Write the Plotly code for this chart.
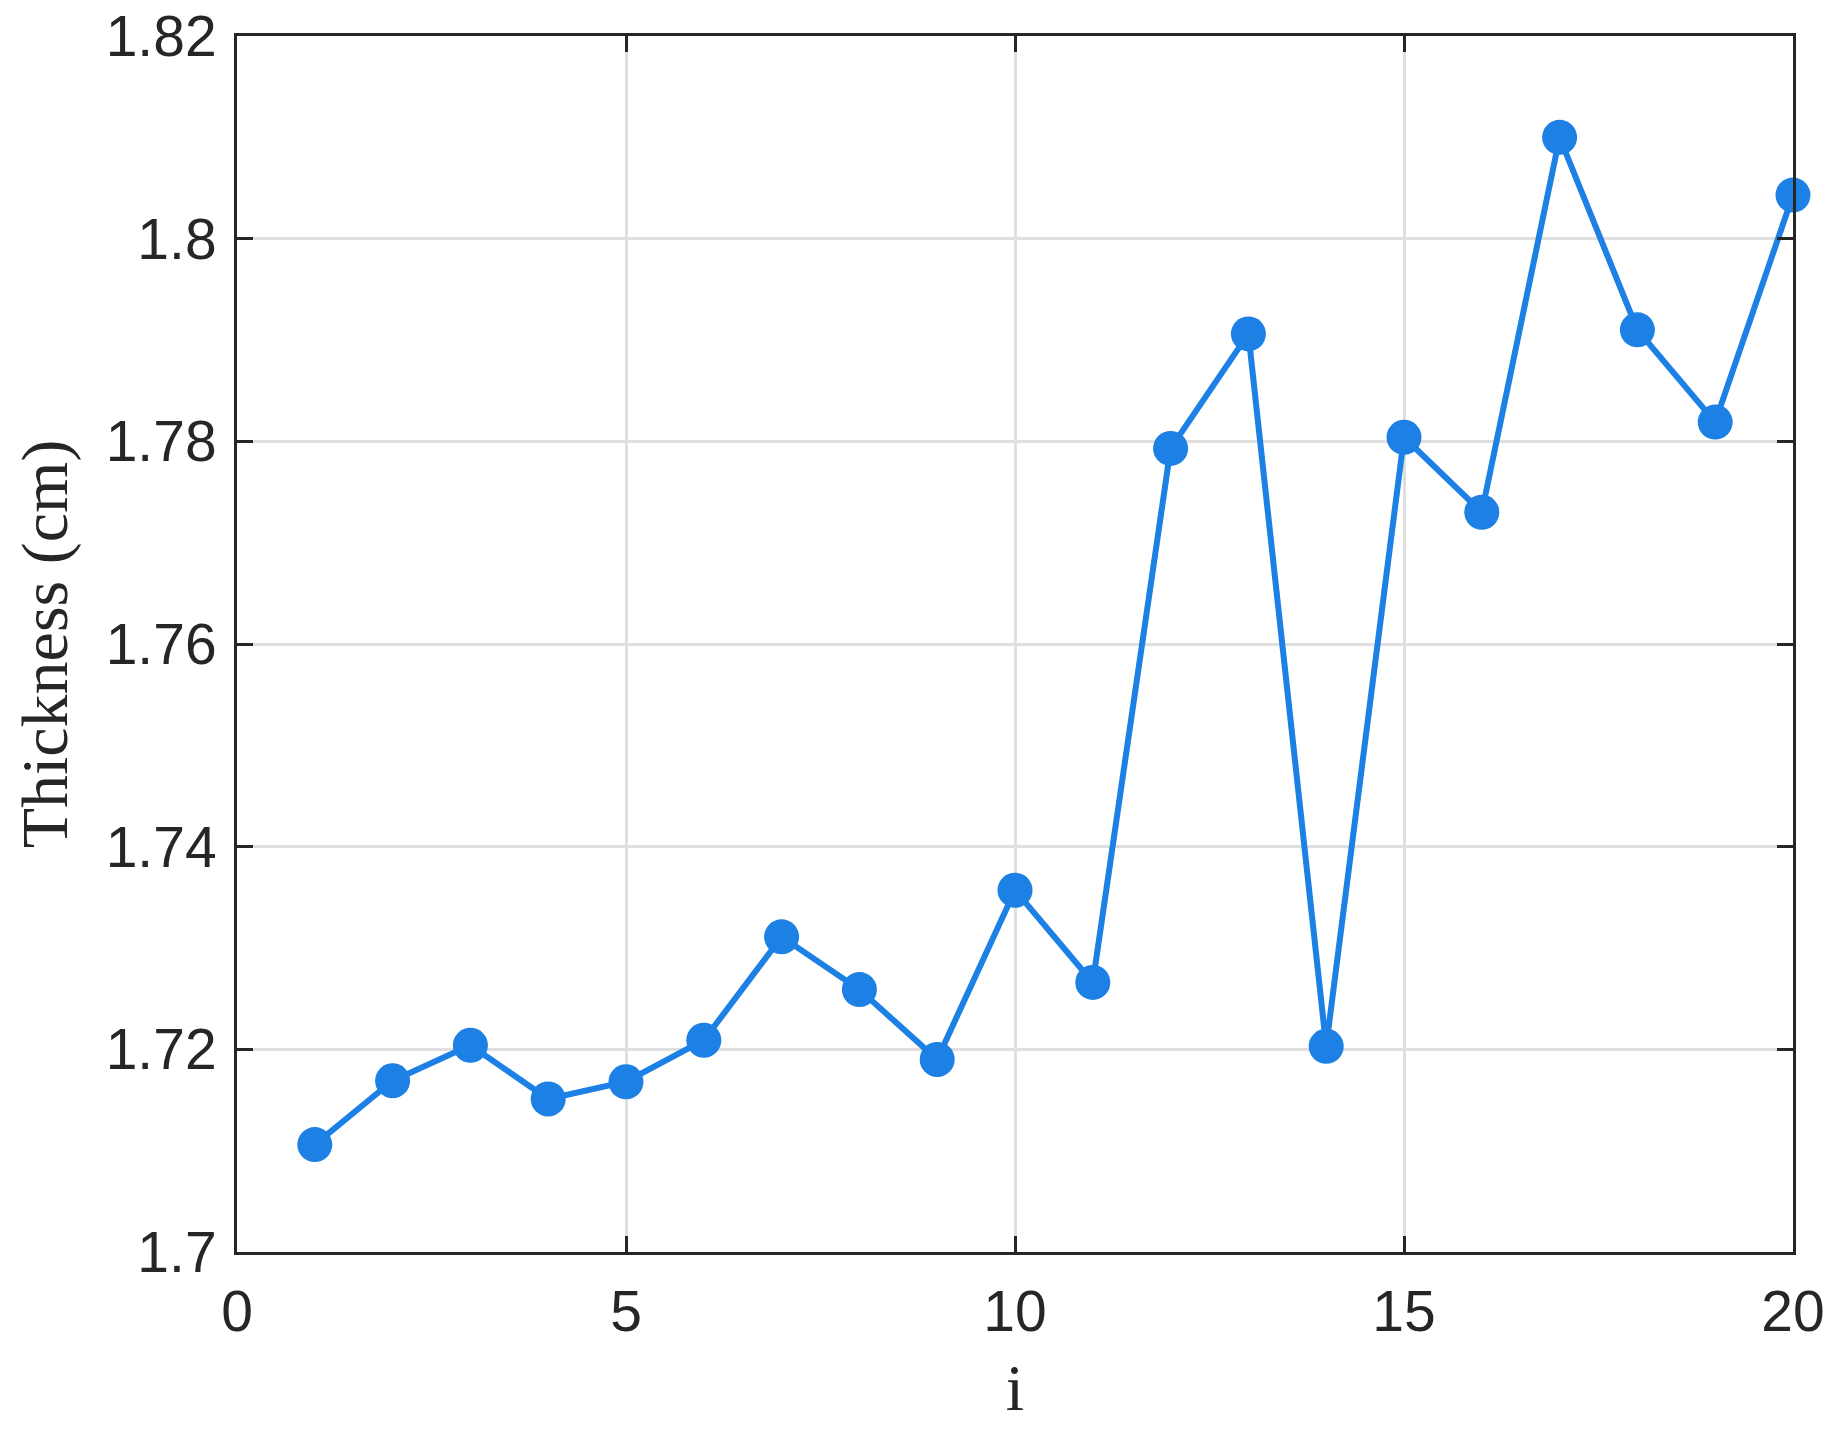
import plotly.graph_objects as go

# Measured thickness per sample index i.
i_vals = list(range(1, 21))
thickness = [1.7106, 1.7169, 1.7204, 1.7151, 1.7168, 1.7209, 1.7311, 1.7259,
             1.7190, 1.7357, 1.7266, 1.7793, 1.7906, 1.7203, 1.7804, 1.7730,
             1.8100, 1.7910, 1.7819, 1.8043]

x_ticks = [0, 5, 10, 15, 20]
y_ticks = [1.70, 1.72, 1.74, 1.76, 1.78, 1.80, 1.82]
y_ticktext = ["1.7", "1.72", "1.74", "1.76", "1.78", "1.8", "1.82"]

blue = "#1c80e4"
axis_col = "#262626"
grid_col = "#dfdfdf"

fig = go.Figure(go.Scatter(
    x=i_vals,
    y=thickness,
    mode="lines+markers",
    line=dict(color=blue, width=6),
    marker=dict(color=blue, size=35),
    cliponaxis=False,
    showlegend=False,
))

axis_common = dict(
    showline=True, linecolor=axis_col, linewidth=3, mirror="ticks",
    ticks="inside", ticklen=16, tickwidth=3, tickcolor=axis_col,
    showgrid=True, gridcolor=grid_col, gridwidth=3,
    zeroline=False, automargin=False, ticklabeloverflow="allow",
    tickfont=dict(family="Liberation Sans, Arial", size=57, color=axis_col),
    title_font=dict(family="Liberation Serif, Times New Roman", size=66, color=axis_col),
)

# page body has an 8px margin, so the figure is made 8px smaller
fig.update_layout(
    width=1835, height=1424,
    margin=dict(l=229, r=50, t=28, b=180),
    paper_bgcolor="white",
    plot_bgcolor="white",
    xaxis=dict(range=[0, 20], tickvals=x_ticks, title=dict(text="i", standoff=22),
               ticklabelstandoff=8, **axis_common),
    yaxis=dict(range=[1.70, 1.82], tickvals=y_ticks, ticktext=y_ticktext,
               title=dict(text="Thickness (cm)", standoff=24),
               ticklabelstandoff=6, **axis_common),
)

fig.write_html("out.html")
